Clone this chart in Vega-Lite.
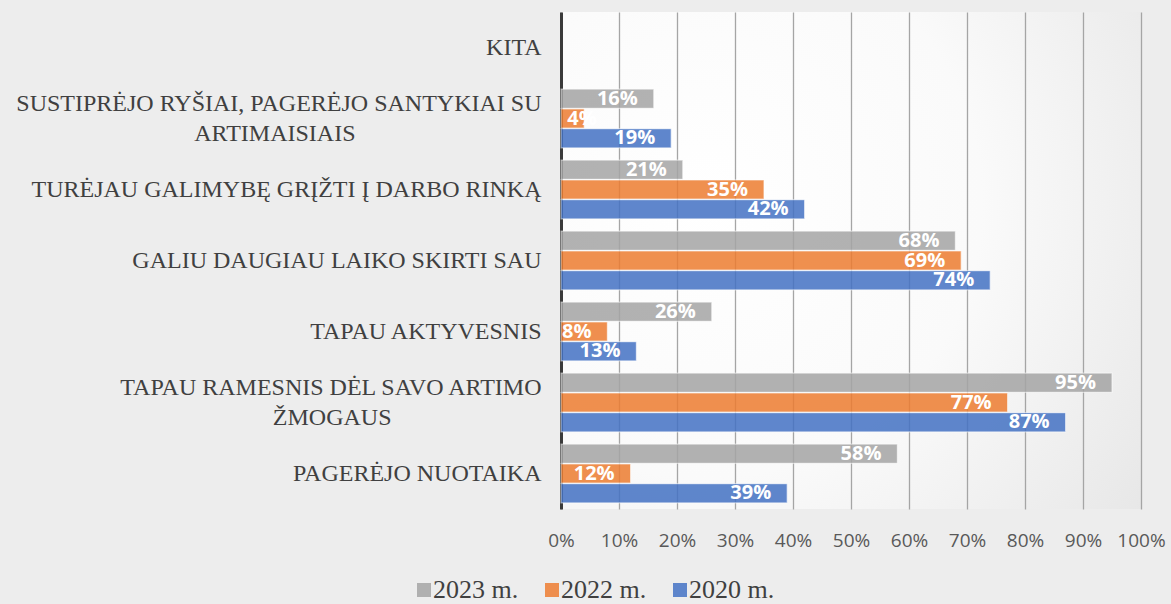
{
  "$schema": "https://vega.github.io/schema/vega-lite/v6.json",
  "width": 580,
  "height": 497,
  "autosize": "none",
  "padding": {"left": 561, "top": 12, "right": 30, "bottom": 95},
  "background": "#ededed",
  "config": {
    "view": {"stroke": null, "fill": {"gradient": "radial", "x1": 0.25, "y1": 0.4, "x2": 0.25, "y2": 0.4, "r1": 0, "r2": 0.95, "stops": [{"offset": 0, "color": "#ffffff"}, {"offset": 0.5, "color": "#fafafa"}, {"offset": 1, "color": "#e6e6e6"}]}}
  },
  "data": {
    "values": [
      {"cat": "SUSTIPRĖJO RYŠIAI, PAGERĖJO SANTYKIAI SU|ARTIMAISIAIS", "year": "2023 m.", "v": 16},
      {"cat": "SUSTIPRĖJO RYŠIAI, PAGERĖJO SANTYKIAI SU|ARTIMAISIAIS", "year": "2022 m.", "v": 4},
      {"cat": "SUSTIPRĖJO RYŠIAI, PAGERĖJO SANTYKIAI SU|ARTIMAISIAIS", "year": "2020 m.", "v": 19},
      {"cat": "TURĖJAU GALIMYBĘ GRĮŽTI Į DARBO RINKĄ", "year": "2023 m.", "v": 21},
      {"cat": "TURĖJAU GALIMYBĘ GRĮŽTI Į DARBO RINKĄ", "year": "2022 m.", "v": 35},
      {"cat": "TURĖJAU GALIMYBĘ GRĮŽTI Į DARBO RINKĄ", "year": "2020 m.", "v": 42},
      {"cat": "GALIU DAUGIAU LAIKO SKIRTI SAU", "year": "2023 m.", "v": 68},
      {"cat": "GALIU DAUGIAU LAIKO SKIRTI SAU", "year": "2022 m.", "v": 69},
      {"cat": "GALIU DAUGIAU LAIKO SKIRTI SAU", "year": "2020 m.", "v": 74},
      {"cat": "TAPAU AKTYVESNIS", "year": "2023 m.", "v": 26},
      {"cat": "TAPAU AKTYVESNIS", "year": "2022 m.", "v": 8},
      {"cat": "TAPAU AKTYVESNIS", "year": "2020 m.", "v": 13},
      {"cat": "TAPAU RAMESNIS DĖL SAVO ARTIMO|ŽMOGAUS", "year": "2023 m.", "v": 95},
      {"cat": "TAPAU RAMESNIS DĖL SAVO ARTIMO|ŽMOGAUS", "year": "2022 m.", "v": 77},
      {"cat": "TAPAU RAMESNIS DĖL SAVO ARTIMO|ŽMOGAUS", "year": "2020 m.", "v": 87},
      {"cat": "PAGERĖJO NUOTAIKA", "year": "2023 m.", "v": 58},
      {"cat": "PAGERĖJO NUOTAIKA", "year": "2022 m.", "v": 12},
      {"cat": "PAGERĖJO NUOTAIKA", "year": "2020 m.", "v": 39}
    ]
  },
  "encoding": {
    "y": {
      "field": "cat", "type": "nominal",
      "scale": {
        "domain": ["KITA", "SUSTIPRĖJO RYŠIAI, PAGERĖJO SANTYKIAI SU|ARTIMAISIAIS", "TURĖJAU GALIMYBĘ GRĮŽTI Į DARBO RINKĄ", "GALIU DAUGIAU LAIKO SKIRTI SAU", "TAPAU AKTYVESNIS", "TAPAU RAMESNIS DĖL SAVO ARTIMO|ŽMOGAUS", "PAGERĖJO NUOTAIKA"],
        "paddingInner": 0.17, "paddingOuter": 0.085
      },
      "axis": {
        "title": null,
        "labelExpr": "indexof(datum.value, '|') >= 0 ? [split(datum.value, '|')[0], pad(split(datum.value, '|')[1], length(split(datum.value, '|')[1]) + round((length(split(datum.value, '|')[0]) - length(split(datum.value, '|')[1])) * 1.1), '\u00a0') + '\u200b'] : datum.value",
        "labelFont": "Liberation Serif",
        "labelFontSize": 24,
        "labelColor": "#404040",
        "labelPadding": 20,
        "labelLimit": 700,
        "labelLineHeight": 30,
        "labelOffset": {"condition": {"test": "indexof(datum.value, '|') >= 0", "value": -15}, "value": 0},
        "ticks": false,
        "domain": true,
        "domainColor": "#3a3a3a",
        "domainWidth": 3,
        "grid": false
      }
    },
    "yOffset": {"field": "year", "type": "nominal", "sort": ["2023 m.", "2022 m.", "2020 m."], "scale": {"paddingInner": 0.03}},
    "x": {
      "field": "v", "type": "quantitative",
      "scale": {"domain": [0, 100]},
      "axis": {
        "title": null,
        "values": [0, 10, 20, 30, 40, 50, 60, 70, 80, 90, 100],
        "labelExpr": "datum.value + '%'",
        "labelOverlap": false,
        "labelFlush": false,
        "labelFont": "Open Sans",
        "labelFontSize": 19,
        "labelColor": "#595959",
        "labelPadding": 22,
        "ticks": false,
        "domain": false,
        "grid": true,
        "gridColor": "#a5a5a5",
        "gridWidth": 1.3
      }
    }
  },
  "layer": [
    {
      "mark": {"type": "bar", "opacity": 0.85, "stroke": "#ffffff", "strokeOpacity": 0.6, "strokeWidth": 1.2},
      "encoding": {
        "color": {
          "field": "year", "type": "nominal",
          "scale": {"domain": ["2023 m.", "2022 m.", "2020 m."], "range": ["#a5a5a5", "#ed7d31", "#4472c4"]},
          "legend": {
            "title": null,
            "orient": "none",
            "direction": "horizontal",
            "legendX": -150,
            "legendY": 565,
            "symbolType": "square",
            "symbolSize": 196,
            "symbolStrokeWidth": 0,
            "symbolOpacity": 0.85,
            "labelFont": "Liberation Serif",
            "labelFontSize": 26,
            "labelColor": "#404040",
            "columnPadding": 20,
            "labelOffset": -4
          }
        }
      }
    },
    {
      "mark": {"type": "text", "align": {"expr": "datum.v < 6 ? 'left' : 'right'"}, "dx": {"expr": "datum.v < 6 ? -17 : -16"}, "baseline": "middle", "color": "#ffffff", "font": "Open Sans", "fontWeight": "bold", "fontSize": 20, "text": {"expr": "datum.v + '%'"}},
      "encoding": {}
    }
  ]
}
